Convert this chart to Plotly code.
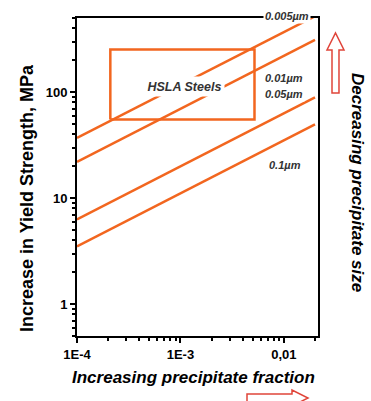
import plotly.graph_objects as go
import math

# ---- data ----
fraction = [1e-4, 0.02]
sizes = ["0.005µm", "0.01µm", "0.05µm", "0.1µm"]
strength_0005 = [37, 520]
strength_001 = [22, 311]
strength_005 = [6.3, 89]
strength_01 = [3.5, 49.5]
series = [strength_0005, strength_001, strength_005, strength_01]
hsla_x = [2.1e-4, 5.2e-3]
hsla_y = [55, 252]
x_tickvals = [1e-4, 1e-3, 1e-2]
x_ticktext = ["1E-4", "1E-3", "0,01"]
y_tickvals = [1, 10, 100]
y_ticktext = ["1", "10", "100"]

ORANGE = "#F2661F"
RED = "#E0453A"
W, H = 371, 401
ML, MR, MT, MB = 77, 53, 18, 65
PW, PH = W - ML - MR, H - MT - MB


def px(x):
    return (x - ML) / PW


def py(y):
    return (H - MB - y) / PH


fig = go.Figure()
for vals in series:
    fig.add_trace(go.Scatter(x=fraction, y=vals, mode="lines",
                             line=dict(color=ORANGE, width=2.5),
                             showlegend=False, hoverinfo="skip"))

# HSLA steels box drawn through the data axes
fig.add_trace(go.Scatter(x=[hsla_x[0], hsla_x[1], hsla_x[1], hsla_x[0], hsla_x[0]],
                         y=[hsla_y[0], hsla_y[0], hsla_y[1], hsla_y[1], hsla_y[0]],
                         mode="lines", line=dict(color=ORANGE, width=2.5),
                         showlegend=False, hoverinfo="skip"))


def path(points):
    s = "M " + " L ".join(f"{px(a):.4f},{py(b):.4f}" for a, b in points) + " Z"
    return s


up_arrow = [(332, 93), (332, 50), (327, 50), (335.5, 33), (344, 50), (339, 50), (339, 93)]
right_arrow = [(247, 394), (292, 394), (292, 390), (308, 398), (292, 406), (292, 402), (247, 402)]
for pts in (up_arrow, right_arrow):
    fig.add_shape(type="path", xref="paper", yref="paper", path=path(pts),
                  line=dict(color=RED, width=1.5), fillcolor="white")

lab_font = dict(family="Liberation Sans, Arial", size=11, color="#333333")
labels = [("<b><i>0.005µm</i></b>", 287, 16),
          ("<b><i>0.01µm</i></b>", 284, 78),
          ("<b><i>0.05µm</i></b>", 284, 94),
          ("<b><i>0.1µm</i></b>", 285, 165)]
for t, x, y in labels:
    fig.add_annotation(text=t, xref="paper", yref="paper", x=px(x), y=py(y),
                       showarrow=False, font=lab_font, bgcolor="white",
                       xanchor="center", yanchor="middle", borderpad=1)

fig.add_annotation(text="<b><i>HSLA Steels</i></b>", xref="paper", yref="paper",
                   x=px(184), y=py(86.5), showarrow=False,
                   xanchor="center", yanchor="middle",
                   font=dict(family="Liberation Sans, Arial", size=12.5, color="#333333"),
                   bgcolor="white", borderpad=2.5)

fam = "Liberation Sans, Arial"
fig.add_annotation(text="<b>Increase in Yield Strength, MPa</b>", xref="paper", yref="paper",
                   x=px(27), y=py(198), textangle=-90, showarrow=False,
                   font=dict(family=fam, size=18, color="black"),
                   xanchor="center", yanchor="middle")
fig.add_annotation(text="<b><i>Decreasing precipitate size</i></b>", xref="paper", yref="paper",
                   x=px(358), y=py(182), textangle=90, showarrow=False,
                   font=dict(family=fam, size=17, color="black"),
                   xanchor="center", yanchor="middle")
fig.add_annotation(text="<b><i>Increasing precipitate fraction</i></b>", xref="paper", yref="paper",
                   x=px(193), y=py(377), showarrow=False,
                   font=dict(family=fam, size=17, color="black"),
                   xanchor="center", yanchor="middle")

tick_font = dict(family=fam, size=13, color="black")
fig.update_xaxes(type="log", range=[-4, -1.67], tickvals=x_tickvals,
                 ticktext=[f"<b>{t}</b>" for t in x_ticktext],
                 ticks="outside", ticklen=5, tickwidth=1.5, tickcolor="black",
                 tickfont=tick_font, showline=True, linecolor="black", linewidth=2,
                 mirror=True, showgrid=False, zeroline=False,
                 minor=dict(ticks="outside", ticklen=3, tickcolor="black", dtick="D1", showgrid=False))
fig.update_yaxes(type="log", range=[math.log10(0.5), math.log10(500)], tickvals=y_tickvals,
                 ticktext=[f"<b>{t}</b>" for t in y_ticktext],
                 ticks="outside", ticklen=5, tickwidth=1.5, tickcolor="black",
                 tickfont=tick_font, showline=True, linecolor="black", linewidth=2,
                 mirror=True, showgrid=False, zeroline=False,
                 minor=dict(ticks="outside", ticklen=3, tickcolor="black", dtick="D1", showgrid=False))

fig.update_layout(width=W, height=H, margin=dict(l=ML, r=MR, t=MT, b=MB),
                  paper_bgcolor="white", plot_bgcolor="white", showlegend=False)
fig.write_html("out.html")
